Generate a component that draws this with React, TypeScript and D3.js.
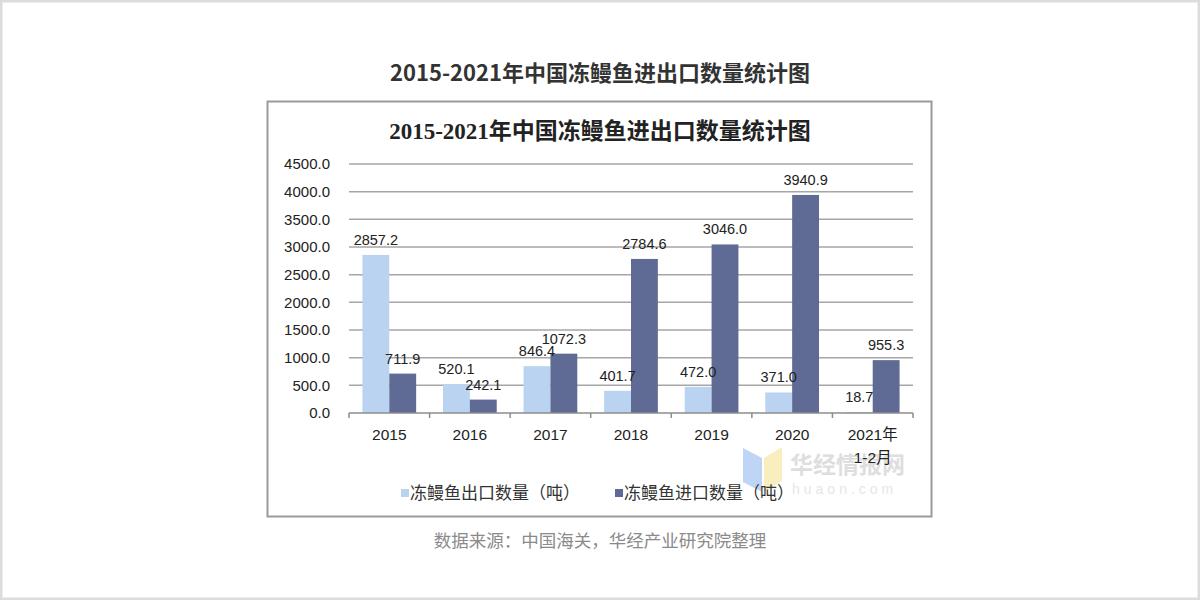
import * as d3 from 'd3'

const categories = ['2015', '2016', '2017', '2018', '2019', '2020', '2021年\n1-2月']
const exportValues = [2857.2, 520.1, 846.4, 401.7, 472.0, 371.0, 18.7]
const importValues = [711.9, 242.1, 1072.3, 2784.6, 3046.0, 3940.9, 955.3]
const seriesNames = ['冻鳗鱼出口数量（吨）', '冻鳗鱼进口数量（吨）']
const yTicks = [0, 500, 1000, 1500, 2000, 2500, 3000, 3500, 4000, 4500]

const colors = ['#b9d3f1', '#5f6b94']
const sansFont = '"Liberation Sans", Arial, "Noto Sans CJK SC", sans-serif'
const serifFont = '"Liberation Serif", "Times New Roman", "Noto Sans CJK SC", serif'

const App = () => {
  const width = 1200
  const height = 600
  const margin = { left: 349, right: 287, top: 164, bottom: 187 }

  const x = d3
    .scaleBand<string>()
    .domain(categories)
    .range([margin.left, width - margin.right])

  const inner = d3
    .scaleBand<number>()
    .domain([0, 1])
    .range([0, x.bandwidth()])
    .paddingOuter(0.5)

  const y = d3
    .scaleLinear()
    .domain([0, 4500])
    .range([height - margin.bottom, margin.top])

  const series = [exportValues, importValues]
  const fmt = d3.format('.1f')

  return (
    <svg
      width={width}
      height={height}
      style={{ position: 'fixed', left: 0, top: 0, background: '#fff' }}
    >
      {/* outer frame */}
      <rect x={1} y={1} width={width - 2} height={height - 2} fill="#fff" stroke="#dcdcdc" strokeWidth={3} />

      <text
        x={600}
        y={81}
        textAnchor="middle"
        fontFamily='"Noto Sans CJK SC", sans-serif'
        fontWeight="bold"
        fontSize={22}
        fill="#333"
      >
        2015-2021年中国冻鳗鱼进出口数量统计图
      </text>

      {/* chart box */}
      <rect x={267.5} y={101.5} width={664} height={415} fill="#fff" stroke="#9a9a9a" strokeWidth={2} />

      <text
        x={600}
        y={139}
        textAnchor="middle"
        fontFamily={serifFont}
        fontWeight="bold"
        fontSize={23}
        fill="#222"
      >
        2015-2021年中国冻鳗鱼进出口数量统计图
      </text>

      {/* watermark */}
      <g opacity={0.75}>
        <polygon points="743,448 762,458 762,492 743,482" fill="#a9c8f3" />
        <polygon points="764,458 782,447 782,481 764,492" fill="#f8e9a8" />
        <text x={790} y={473} fontFamily='"Noto Sans CJK SC", sans-serif' fontWeight="bold" fontSize={23} fill="#d4d4d4">
          华经情报网
        </text>
        <text x={792} y={494} fontFamily={sansFont} fontSize={14} letterSpacing={4} fill="#dedede">
          huaon.com
        </text>
      </g>

      {/* grid */}
      {yTicks.slice(1).map((t) => (
        <line key={t} x1={margin.left} x2={width - margin.right} y1={y(t)} y2={y(t)} stroke="#a6a6a6" strokeWidth={1.5} />
      ))}

      {yTicks.map((t) => (
        <text
          key={t}
          x={330}
          y={y(t)}
          dy="0.35em"
          textAnchor="end"
          fontFamily={sansFont}
          fontSize={15}
          fill="#222"
        >
          {fmt(t)}
        </text>
      ))}

      {/* bars */}
      {categories.map((c, i) => (
        <g key={c} transform={`translate(${x(c)},0)`}>
          {series.map((vals, s) => (
            <rect
              key={s}
              x={inner(s)}
              y={y(vals[i])}
              width={inner.bandwidth()}
              height={y(0) - y(vals[i])}
              fill={colors[s]}
            />
          ))}
          {series.map((vals, s) => (
            <text
              key={'l' + s}
              x={(inner(s) ?? 0) + inner.bandwidth() / 2}
              y={y(vals[i]) - 10}
              textAnchor="middle"
              fontFamily={sansFont}
              fontSize={14.5}
              fill="#222"
            >
              {fmt(vals[i])}
            </text>
          ))}
        </g>
      ))}

      {/* x axis */}
      <line x1={margin.left} x2={width - margin.right} y1={y(0)} y2={y(0)} stroke="#8c8c8c" strokeWidth={1.5} />
      {[...categories.map((c) => x(c) ?? 0), width - margin.right].map((t, i) => (
        <line key={i} x1={t} x2={t} y1={y(0)} y2={y(0) + 5} stroke="#8c8c8c" strokeWidth={1.5} />
      ))}
      {categories.map((c) =>
        c.split('\n').map((line, j) => (
          <text
            key={c + j}
            x={(x(c) ?? 0) + x.bandwidth() / 2}
            y={440 + j * 23}
            textAnchor="middle"
            fontFamily={sansFont}
            fontSize={15.5}
            fill="#222"
          >
            {line}
          </text>
        ))
      )}

      {/* legend */}
      {seriesNames.map((name, s) => (
        <g key={name} transform={`translate(${s === 0 ? 401 : 615},493)`}>
          <rect x={0} y={-4} width={8} height={8} fill={colors[s]} />
          <text x={9} y={0} dy="0.35em" fontFamily='"Noto Sans CJK SC", sans-serif' fontSize={17} fill="#333">
            {name}
          </text>
        </g>
      ))}

      <text
        x={600}
        y={547}
        textAnchor="middle"
        fontFamily='"Noto Sans CJK SC", sans-serif'
        fontSize={17.5}
        fill="#8a8a8a"
      >
        数据来源：中国海关，华经产业研究院整理
      </text>
    </svg>
  )
}

export default App
